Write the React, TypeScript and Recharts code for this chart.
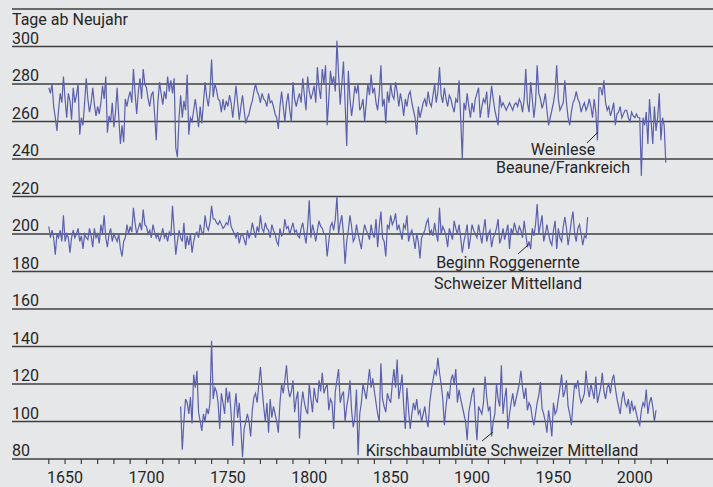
import { LineChart, Line, XAxis, YAxis, ReferenceLine } from 'recharts'

const FONT = 'Roboto, "Open Sans", sans-serif'
const TEXT = '#262626'
const GRID = '#3f3f3f'
const SERIES = '#5a5fae'
const BG = '#e6e7e9'

// tick values
const yTicks = [80, 100, 120, 140, 160, 180, 200, 220, 240, 260, 280, 300, 320]
const xTicks = [
  1640, 1650, 1660, 1670, 1680, 1690, 1700, 1710, 1720, 1730, 1740, 1750, 1760,
  1770, 1780, 1790, 1800, 1810, 1820, 1830, 1840, 1850, 1860, 1870, 1880, 1890,
  1900, 1910, 1920, 1930, 1940, 1950, 1960, 1970, 1980, 1990, 2000, 2010, 2020,
]

// Weinlese Beaune / Frankreich, 1640-2019 (Tage ab Neujahr)
const weinleseStart = 1640
const weinlese = [
  278, 275, 280, 268, 262, 255, 266, 275, 270, 284,
  272, 262, 275, 271, 261, 278, 270, 274, 280, 253,
  262, 258, 270, 283, 272, 265, 270, 278, 269, 263,
  268, 264, 270, 279, 272, 284, 254, 263, 260, 270,
  257, 265, 278, 262, 248, 258, 249, 272, 268, 273,
  276, 270, 288, 275, 264, 276, 283, 272, 288, 280,
  278, 272, 268, 274, 276, 264, 250, 270, 281, 275,
  269, 276, 272, 284, 276, 282, 275, 283, 246, 241,
  262, 274, 262, 271, 266, 285, 253, 262, 260, 266,
  272, 265, 257, 268, 259, 270, 281, 273, 268, 276,
  293, 273, 280, 277, 272, 271, 265, 272, 266, 271,
  268, 274, 270, 262, 270, 279, 270, 261, 268, 274,
  266, 259, 262, 264, 268, 271, 276, 280, 276, 274,
  270, 275, 272, 271, 268, 275, 270, 271, 268, 264,
  262, 256, 268, 276, 268, 260, 270, 275, 266, 260,
  281, 272, 268, 272, 275, 270, 283, 274, 266, 284,
  276, 272, 275, 279, 270, 289, 278, 272, 288, 280,
  290, 258, 272, 287, 280, 284, 276, 303, 285, 269,
  280, 292, 270, 247, 287, 272, 263, 270, 279, 275,
  280, 266, 268, 272, 260, 270, 280, 274, 285, 275,
  278, 270, 266, 275, 290, 268, 272, 259, 276, 270,
  280, 274, 272, 281, 276, 268, 275, 270, 263, 272,
  268, 274, 276, 270, 266, 262, 253, 268, 262, 266,
  270, 272, 268, 276, 270, 268, 274, 280, 270, 276,
  289, 274, 270, 278, 272, 268, 274, 272, 268, 265,
  272, 270, 282, 262, 240, 270, 266, 275, 268, 262,
  270, 265, 272, 275, 278, 262, 268, 272, 270, 276,
  262, 270, 279, 272, 266, 262, 258, 274, 268, 270,
  268, 266, 268, 270, 268, 266, 269, 270, 268, 272,
  270, 265, 272, 288, 270, 265, 281, 272, 262, 270,
  290, 275, 272, 267, 270, 275, 266, 258, 262, 266,
  270, 276, 290, 272, 266, 268, 270, 282, 270, 262,
  258, 265, 270, 272, 276, 272, 270, 265, 268, 270,
  266, 268, 272, 268, 262, 272, 265, 250, 278, 278,
  274, 282, 270, 266, 268, 263, 266, 270, 258, 264,
  265, 268, 262, 264, 266, 266, 262, 260, 265, 263,
  262, 264, 262, 262, 231, 262, 258, 265, 248, 272,
  260, 248, 268, 255, 262, 275, 250, 262, 258, 238,
]

// Beginn Roggenernte Schweizer Mittelland, 1640-1971
const roggenStart = 1640
const roggen = [
  204, 198, 202, 198, 189, 200, 198, 202, 196, 210,
  196, 200, 198, 190, 198, 202, 198, 200, 203, 196,
  199, 192, 200, 198, 197, 203, 199, 193, 203, 198,
  200, 195, 205, 200, 210, 198, 193, 200, 203, 196,
  200, 198, 196, 200, 192, 188, 196, 198, 205, 200,
  204, 201, 214, 206, 200, 203, 206, 202, 213, 205,
  204, 200, 202, 198, 205, 201, 198, 200, 196, 199,
  203, 198, 200, 196, 201, 199, 215, 202, 189, 196,
  202, 198, 196, 206, 192, 199, 194, 200, 190, 196,
  200, 201, 198, 205, 201, 200, 210, 204, 202, 206,
  215, 208, 208, 206, 205, 207, 205, 203, 204, 206,
  205, 210, 204, 202, 200, 198, 201, 195, 199, 200,
  197, 194, 202, 198, 200, 206, 202, 198, 204, 201,
  210, 203, 201, 206, 203, 202, 198, 205, 202, 200,
  196, 194, 203, 199, 200, 208, 203, 204, 200, 203,
  206, 201, 202, 199, 198, 203, 206, 200, 195, 204,
  218, 198, 205, 201, 196, 202, 207, 204, 203, 200,
  200, 188, 196, 204, 206, 202, 208, 220, 200, 206,
  210, 200, 184, 196, 202, 210, 204, 196, 198, 205,
  200, 196, 192, 200, 205, 202, 200, 197, 205, 200,
  198, 208, 193, 204, 212, 198, 196, 188, 205, 203,
  210, 205, 207, 211, 202, 205, 201, 197, 205, 203,
  210, 196, 200, 202, 198, 192, 200, 196, 187, 198,
  200, 202, 206, 208, 200, 202, 199, 206, 200, 196,
  214, 200, 204, 202, 199, 193, 203, 200, 197, 207,
  203, 200, 205, 198, 190, 196, 200, 205, 192, 198,
  205, 202, 200, 198, 205, 200, 195, 202, 208, 196,
  200, 202, 193, 198, 200, 203, 208, 195, 198, 203,
  197, 201, 205, 192, 203, 200, 206, 202, 200, 204,
  202, 198, 207, 200, 193, 196, 192, 203, 199, 205,
  216, 200, 205, 210, 196, 200, 205, 200, 196, 194,
  202, 207, 192, 203, 198, 196, 204, 209, 203, 194,
  200, 207, 212, 200, 196, 203, 205, 200, 194, 199,
  198, 209,
]

// Kirschbaumblüte Schweizer Mittelland, 1721-2013
const kirschStart = 1721
const kirsch = [
  108, 85, 100, 112, 110, 104, 113, 99, 125,
  118, 127, 105, 100, 95, 104, 100, 107, 104, 110,
  143, 112, 118, 116, 110, 96, 115, 110, 104, 118,
  110, 116, 104, 87, 106, 115, 102, 110, 96, 81,
  96, 100, 104, 100, 92, 106, 113, 115, 110, 120,
  129, 118, 108, 100, 110, 94, 112, 102, 108, 104,
  100, 94, 110, 120, 115, 122, 130, 118, 113, 116,
  122, 105, 112, 116, 91, 108, 116, 110, 106, 104,
  120, 112, 105, 118, 112, 110, 122, 116, 126, 115,
  118, 120, 106, 112, 110, 96, 116, 122, 128, 110,
  114, 116, 100, 108, 113, 122, 106, 97, 102, 117,
  82, 104, 110, 120, 116, 112, 120, 128, 118, 123,
  116, 110, 104, 100, 131, 112, 108, 105, 115, 112,
  110, 120, 128, 118, 133, 112, 118, 125, 108, 96,
  118, 106, 96, 104, 110, 106, 112, 104, 106, 100,
  104, 108, 101, 97, 110, 117, 122, 127, 125, 134,
  126, 120, 112, 98, 108, 116, 112, 122, 125, 120,
  128, 110, 117, 112, 108, 104, 100, 90, 105, 110,
  115, 118, 102, 90, 108, 106, 104, 110, 124, 113,
  106, 108, 92, 100, 104, 120, 112, 108, 130, 104,
  112, 118, 96, 104, 110, 115, 108, 112, 116, 120,
  127, 118, 112, 118, 106, 110, 108, 102, 98, 104,
  110, 114, 121, 107, 104, 100, 94, 106, 100, 92,
  110, 104, 106, 112, 118, 125, 113, 116, 122, 108,
  104, 98, 110, 120, 118, 122, 114, 110, 112, 115,
  127, 118, 113, 120, 116, 112, 124, 110, 114, 118,
  126, 116, 112, 118, 120, 115, 122, 125, 118, 112,
  108, 104, 112, 116, 110, 108, 112, 104, 111, 106,
  108, 104, 100, 98, 106, 110, 108, 117, 104, 110,
  113, 108, 100, 106,
]

const pick = (arr: number[], start: number, year: number) => {
  const v = arr[year - start]
  return v === undefined ? null : v
}

const rows: any[] = []
for (let year = 1640; year <= 2019; year++) {
  rows.push({
    year,
    wein: pick(weinlese, weinleseStart, year),
    roggen: pick(roggen, roggenStart, year),
    kirsch: pick(kirsch, kirschStart, year),
  })
}

// y labels sit above their gridline, flush with its left end
const YTick = ({ y, payload }: any) => {
  if (payload.value === 320) return <g />
  return (
    <text x={12} y={y - 3} fill={TEXT} fontSize={16} fontFamily={FONT} textAnchor="start">
      {payload.value}
    </text>
  )
}

const textStyle = { fill: TEXT, fontSize: 16, fontFamily: FONT }

export default function App() {
  return (
    <div style={{ position: 'relative', width: 713, height: 487, background: BG }}>
      <style>{'body{margin:0}'}</style>
      <LineChart width={713} height={487} data={rows} margin={{ top: 9, right: 0, bottom: 0, left: 10 }}>
        {yTicks.map(v => (
          <ReferenceLine key={v} y={v} stroke={GRID} strokeWidth={1.3} />
        ))}
        <XAxis
          dataKey="year"
          type="number"
          domain={[1617.4, 2048]}
          allowDataOverflow
          ticks={xTicks}
          interval={0}
          height={28}
          axisLine={false}
          tickLine={{ stroke: GRID, strokeWidth: 1.2 }}
          tickSize={5}
          tickMargin={7.5}
          tick={textStyle}
          tickFormatter={(v: number) => (v % 50 === 0 ? String(v) : '')}
        />
        <YAxis
          type="number"
          domain={[80, 320]}
          ticks={yTicks}
          interval={0}
          width={2}
          axisLine={false}
          tickLine={false}
          tick={<YTick />}
        />
        <Line dataKey="wein" stroke={SERIES} strokeWidth={1.2} dot={false} isAnimationActive={false} />
        <Line dataKey="roggen" stroke={SERIES} strokeWidth={1.2} dot={false} isAnimationActive={false} />
        <Line dataKey="kirsch" stroke={SERIES} strokeWidth={1.2} dot={false} isAnimationActive={false} />
      </LineChart>
      <svg width={713} height={487} style={{ position: 'absolute', left: 0, top: 0, pointerEvents: 'none' }}>
        <text x={12} y={25} {...textStyle}>Tage ab Neujahr</text>

        <line x1={587} y1={143} x2={598} y2={132} stroke={TEXT} strokeWidth={1} />
        <text x={563} y={155} textAnchor="middle" {...textStyle}>Weinlese</text>
        <text x={563} y={173} textAnchor="middle" {...textStyle}>Beaune/Frankreich</text>

        <line x1={518} y1={254} x2={528} y2={245} stroke={TEXT} strokeWidth={1} />
        <text x={508} y={268} textAnchor="middle" {...textStyle}>Beginn Roggenernte</text>
        <text x={508} y={289} textAnchor="middle" {...textStyle}>Schweizer Mittelland</text>

        <line x1={482} y1={441} x2={493} y2={432} stroke={TEXT} strokeWidth={1} />
        <text x={502} y={456} textAnchor="middle" {...textStyle}>Kirschbaumblüte Schweizer Mittelland</text>
      </svg>
    </div>
  )
}
